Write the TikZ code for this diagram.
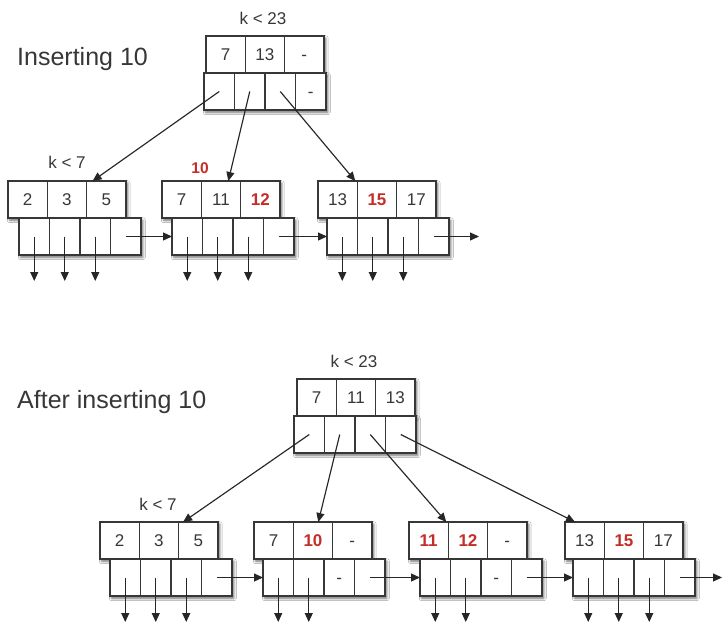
\documentclass[tikz,border=0pt]{standalone}
\usepackage{fontspec}
\setmainfont{Liberation Sans}
\usetikzlibrary{arrows.meta,shadows.blur}

\definecolor{hot}{RGB}{196,46,40}
\definecolor{ink}{RGB}{55,55,55}

\tikzset{
  rowshadow/.style={fill=white,
    blur shadow={shadow xshift=1.8pt, shadow yshift=-2.2pt, shadow blur radius=2.5pt, shadow opacity=60}},
  cell/.style={draw=ink, line width=1.2pt, fill=white, inner sep=0pt, outer sep=0pt,
    font=\fontsize{17}{17}\selectfont, text=ink, text height=12.2pt, text depth=0pt},
  keycell/.style={cell, minimum width=39.3pt, minimum height=37pt},
  ptrcell/.style={cell, minimum width=30.5pt, minimum height=37pt},
  link/.style={draw=black!85, line width=1.15pt, -{Triangle[length=9pt,width=8pt]}},
  bound/.style={font=\fontsize{17}{17}\selectfont, text=ink, inner sep=0pt},
  title/.style={font=\fontsize{25}{25}\selectfont, text=ink, inner sep=0pt, anchor=base west},
}
\newcommand{\hot}[1]{\textcolor{hot}{\bfseries #1}}

% One B+ tree node: three key cells over four pointer cells, each row
% laid on a soft shadow.
% #1 name, (#2,#3) top-left of the key row, #4 shift of the pointer row,
% #5-#7 keys, #8-#9 contents of pointer cells 3 and 4
\newcommand{\bpnode}[9]{%
  \path[rowshadow] (#2,#3) rectangle ++(117.9,37);
  \node[keycell, anchor=north west] (#1k1) at (#2,#3) {#5};
  \node[keycell, anchor=west] (#1k2) at (#1k1.east) {#6};
  \node[keycell, anchor=west] (#1k3) at (#1k2.east) {#7};
  \path[rowshadow] ({#2+#4},{#3+37}) rectangle ++(122,37);
  \node[ptrcell, anchor=north west, xshift=#4pt] (#1p1) at (#1k1.south west) {};
  \node[ptrcell, anchor=west] (#1p2) at (#1p1.east) {};
  \node[ptrcell, anchor=west] (#1p3) at (#1p2.east) {#8};
  \node[ptrcell, anchor=west] (#1p4) at (#1p3.east) {#9};
}
% child pointer of a leaf, hanging down from a pointer cell
\newcommand{\dropptr}[1]{%
  \coordinate (#1end) at ([yshift=-26pt]#1.south);
  \draw[link] (#1.center) -- (#1end);
}

\begin{document}
\begin{tikzpicture}[x=1pt, y=-1pt]
  \useasboundingbox (0,0) rectangle (727,626);
  \fill[white] (0,0) rectangle (727,626);

  % ---------- before the split ----------
  \node[title] (t1) at (17,65) {Inserting 10};

  \bpnode{r}{206}{36}{-2}{7}{13}{-}{}{-}
  \node[bound, anchor=base] (r-lab) at (263,25) {k < 23};

  \bpnode{a}{8}{181}{11}{2}{3}{5}{}{}
  \bpnode{b}{162}{181}{10}{7}{11}{\hot{12}}{}{}
  \bpnode{c}{318}{181}{9}{13}{\hot{15}}{17}{}{}
  \node[bound, anchor=base] (a-lab) at (67,168) {k < 7};
  \node[bound, anchor=base, font=\fontsize{15.5}{15.5}\selectfont\bfseries, text=hot] (ins) at (200,173) {10};

  \draw[link] (rp1.center) -- ([xshift=6pt]ak3.north west);
  \draw[link] (rp2.center) -- ([xshift=27pt]bk2.north west);
  \draw[link] (rp3.center) -- ([xshift=-2pt]ck1.north east);

  \foreach \n in {a,b,c} {\dropptr{\n p1}\dropptr{\n p2}\dropptr{\n p3}}
  \draw[link] (ap4.center) -- (bp1.west);
  \draw[link] (bp4.center) -- (cp1.west);
  \coordinate (cnext) at ([xshift=30pt]cp4.east);
  \draw[link] (cp4.center) -- (cnext);

  % ---------- after the split ----------
  \node[title] (t2) at (17,408) {After inserting 10};

  \bpnode{s}{297}{379}{-3}{7}{11}{13}{}{}
  \node[bound, anchor=base] (s-lab) at (354,367) {k < 23};

  \bpnode{d}{100}{522}{10}{2}{3}{5}{}{}
  \bpnode{e}{254}{522}{9}{7}{\hot{10}}{-}{-}{}
  \bpnode{f}{409}{522}{11}{\hot{11}}{\hot{12}}{-}{-}{}
  \bpnode{g}{565}{522}{8}{13}{\hot{15}}{17}{}{}
  \node[bound, anchor=base] (d-lab) at (158,510) {k < 7};

  \draw[link] (sp1.center) -- ([xshift=4.5pt]dk3.north west);
  \draw[link] (sp2.center) -- ([xshift=25pt]ek2.north west);
  \draw[link] (sp3.center) -- ([xshift=-2pt]fk1.north east);
  \draw[link] (sp4.center) -- ([xshift=10pt]gk1.north west);

  \dropptr{dp1}\dropptr{dp2}\dropptr{dp3}
  \dropptr{ep1}\dropptr{ep2}
  \dropptr{fp1}\dropptr{fp2}
  \dropptr{gp1}\dropptr{gp2}\dropptr{gp3}
  \draw[link] (dp4.center) -- (ep1.west);
  \draw[link] (ep4.center) -- (fp1.west);
  \draw[link] (fp4.center) -- (gp1.west);
  \coordinate (gnext) at ([xshift=27pt]gp4.east);
  \draw[link] (gp4.center) -- (gnext);
\end{tikzpicture}
\end{document}
